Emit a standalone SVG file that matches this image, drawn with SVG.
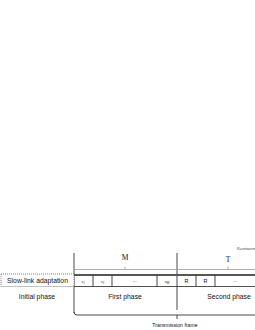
<svg xmlns="http://www.w3.org/2000/svg" width="255" height="330" viewBox="0 0 255 330">
<style>
.lbl{font-family:"Liberation Sans",Arial,sans-serif;fill:#111;text-anchor:middle}
.sym{font-family:"Liberation Serif","Times New Roman",serif;fill:#111;text-anchor:middle}
.brace{fill:none;stroke:#999;stroke-width:0.8}
.sep{fill:none;stroke:#333;stroke-width:0.9}
</style>
<rect width="255" height="330" fill="#fff"/>
<g id="connectors">
  <line class="sep" x1="74" y1="253" x2="74" y2="313"/>
  <line class="sep" x1="177" y1="253" x2="177" y2="310"/>
  <path class="brace" d="M74,269.5 H177 M125,269.5 V266.5"/>
  <path class="brace" d="M177,269.5 H255 M228,269.5 V266.5"/>
  <path class="sep" d="M74,312 Q74,315 77,315 H255 M177,315 V319"/>
</g>
<g id="slow-link">
  <rect x="1" y="274" width="73" height="12.5" fill="#fff" stroke="#666" stroke-width="0.8" stroke-dasharray="1,1"/>
  <text class="lbl" x="37.5" y="283" font-size="6.8">Slow-link adaptation</text>
</g>
<g id="bar">
  <line x1="74" y1="275" x2="255" y2="275" stroke="#555" stroke-width="1.8"/>
  <line x1="74" y1="286.5" x2="255" y2="286.5" stroke="#222" stroke-width="0.8"/>
</g>
<g id="s1"><line class="sep" x1="93" y1="275" x2="93" y2="286.5"/><text class="sym" x="83" y="282.5" font-size="5" font-style="italic">s<tspan font-size="3.2" dy="1" font-style="normal">1</tspan></text></g>
<g id="s2"><line class="sep" x1="112" y1="275" x2="112" y2="286.5"/><text class="sym" x="102.5" y="282.5" font-size="5" font-style="italic">s<tspan font-size="3.2" dy="1" font-style="normal">2</tspan></text></g>
<g id="dots1"><line class="sep" x1="157" y1="275" x2="157" y2="286.5"/><text class="lbl" x="134.5" y="282" font-size="5">...</text></g>
<g id="sM"><text class="sym" x="167" y="282.5" font-size="5" font-style="italic">s<tspan font-size="3.2" dy="1" font-style="normal">M</tspan></text></g>
<g id="R1"><line class="sep" x1="196" y1="275" x2="196" y2="286.5"/><text class="lbl" x="186.5" y="282.5" font-size="5.5">R</text></g>
<g id="R2"><line class="sep" x1="215" y1="275" x2="215" y2="286.5"/><text class="lbl" x="205.5" y="282.5" font-size="5.5">R</text></g>
<g id="dots2"><text class="lbl" x="235" y="282" font-size="5">...</text></g>
<g id="labels">
  <text class="sym" x="125" y="260" font-size="7.5">M</text>
  <text class="sym" x="228" y="262" font-size="7.5">T</text>
  <text class="lbl" x="37" y="299" font-size="6.8">Initial phase</text>
  <text class="lbl" x="125" y="299" font-size="6.8">First phase</text>
  <text class="lbl" x="229" y="299" font-size="6.8">Second phase</text>
  <text class="lbl" x="175" y="327" font-size="5.2">Transmission frame</text>
  <text x="237" y="250" font-size="3.6" font-family="Liberation Sans,Arial,sans-serif" fill="#444">R=retransmission</text>
</g>
</svg>
